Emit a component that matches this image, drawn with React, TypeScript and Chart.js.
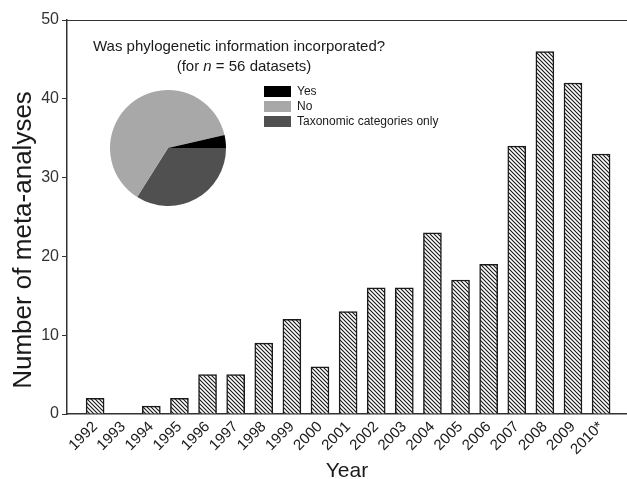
import React, { useEffect, useRef } from "react";
import { Chart, registerables } from "chart.js";

Chart.register(...registerables);

const years = [1992, 1993, 1994, 1995, 1996, 1997, 1998, 1999, 2000, 2001, 2002, 2003, 2004, 2005, 2006, 2007, 2008, 2009, 2010];
const yearLabels = ["1992", "1993", "1994", "1995", "1996", "1997", "1998", "1999", "2000", "2001", "2002", "2003", "2004", "2005", "2006", "2007", "2008", "2009", "2010*"];
const counts = [2, 0, 1, 2, 5, 5, 9, 12, 6, 13, 16, 16, 23, 17, 19, 34, 46, 42, 33];
const yTicks = [0, 10, 20, 30, 40, 50];

const pieLabels = ["Yes", "No", "Taxonomic categories only"];
const pieValues = [2, 35, 19];
const pieColors = ["#000000", "#a8a8a8", "#505050"];

const FONT = "'Liberation Sans', Arial, sans-serif";

function makeHatch(): CanvasPattern | string {
  const p = document.createElement("canvas");
  p.width = 4;
  p.height = 4;
  const c = p.getContext("2d");
  if (!c) return "#888";
  c.fillStyle = "#ffffff";
  c.fillRect(0, 0, 4, 4);
  c.strokeStyle = "#151515";
  c.lineWidth = 1.1;
  c.beginPath();
  c.moveTo(-1, -1);
  c.lineTo(5, 5);
  c.moveTo(3, -1);
  c.lineTo(5, 1);
  c.moveTo(-1, 3);
  c.lineTo(1, 5);
  c.stroke();
  const pat = c.createPattern(p, "repeat");
  return pat || "#888";
}

const annotationPlugin = {
  id: "annotations",
  afterDraw(chart: any) {
    const ctx = chart.ctx as CanvasRenderingContext2D;
    const { left, right, top } = chart.chartArea;
    ctx.save();
    // top border line
    ctx.strokeStyle = "#333";
    ctx.lineWidth = 1;
    ctx.beginPath();
    ctx.moveTo(left, top + 0.5);
    ctx.lineTo(right, top + 0.5);
    ctx.stroke();

    // y axis title
    ctx.save();
    ctx.translate(24, 240);
    ctx.rotate(-Math.PI / 2);
    ctx.font = `26px ${FONT}`;
    ctx.fillStyle = "#1a1a1a";
    ctx.textAlign = "center";
    ctx.textBaseline = "middle";
    ctx.fillText("Number of meta-analyses", 0, 0);
    ctx.restore();

    // inset title
    ctx.fillStyle = "#1a1a1a";
    ctx.textBaseline = "middle";
    ctx.font = `15px ${FONT}`;
    ctx.textAlign = "left";
    ctx.fillText("Was phylogenetic information incorporated?", 93, 47);
    const a = "(for ";
    const b = "n";
    const c = " = 56 datasets)";
    ctx.font = `15px ${FONT}`;
    const wa = ctx.measureText(a).width;
    const wc = ctx.measureText(c).width;
    ctx.font = `italic 15px ${FONT}`;
    const wb = ctx.measureText(b).width;
    let x = 244 - (wa + wb + wc) / 2;
    ctx.font = `15px ${FONT}`;
    ctx.fillText(a, x, 67);
    x += wa;
    ctx.font = `italic 15px ${FONT}`;
    ctx.fillText(b, x, 67);
    x += wb;
    ctx.font = `15px ${FONT}`;
    ctx.fillText(c, x, 67);

    // pie legend
    ctx.font = `12px ${FONT}`;
    pieLabels.forEach((lab, i) => {
      const y = 86 + i * 15;
      ctx.fillStyle = pieColors[i];
      ctx.fillRect(264, y, 27, 11);
      ctx.fillStyle = "#1a1a1a";
      ctx.fillText(lab, 297, y + 5.5);
    });
    ctx.restore();
  },
};

export default function App() {
  const mainRef = useRef<HTMLCanvasElement | null>(null);
  const pieRef = useRef<HTMLCanvasElement | null>(null);

  useEffect(() => {
    if (!mainRef.current || !pieRef.current) return;
    const hatch = makeHatch();
    const xMax = 1991 + (627 - 67) / 28.11;

    const main = new Chart(mainRef.current, {
      type: "bar",
      data: {
        datasets: [
          {
            data: years.map((yr, i) => ({ x: yr, y: counts[i] })),
            backgroundColor: hatch as any,
            borderColor: "#1a1a1a",
            borderWidth: 1.5,
            barThickness: 18,
          },
        ],
      },
      options: {
        responsive: false,
        animation: false,
        layout: { padding: { top: 20, left: 0, right: 0, bottom: 0 } },
        plugins: { legend: { display: false }, tooltip: { enabled: false } },
        scales: {
          x: {
            type: "linear",
            offset: false,
            min: 1991,
            max: xMax,
            afterBuildTicks: (scale: any) => {
              scale.ticks = years.map((v) => ({ value: v }));
            },
            afterFit: (scale: any) => {
              scale.height = 65;
            },
            grid: { display: false, drawTicks: false, offset: false },
            border: { display: true, color: "#333", width: 1.5 },
            ticks: {
              autoSkip: false,
              maxRotation: 45,
              minRotation: 45,
              padding: 4,
              color: "#1a1a1a",
              font: { family: FONT, size: 15 },
              callback: (v: any) => {
                const i = years.indexOf(Number(v));
                return i >= 0 ? yearLabels[i] : "";
              },
            },
            title: {
              display: true,
              text: "Year",
              color: "#1a1a1a",
              font: { family: FONT, size: 21, lineHeight: 1.0 },
              padding: { top: 0, bottom: -3 },
            },
          },
          y: {
            min: 0,
            max: 50,
            afterBuildTicks: (scale: any) => {
              scale.ticks = yTicks.map((v) => ({ value: v }));
            },
            afterFit: (scale: any) => {
              scale.width = 67;
            },
            grid: { display: true, drawOnChartArea: false, drawTicks: true, tickLength: 5, color: "#333" },
            border: { display: true, color: "#333", width: 1.5 },
            ticks: {
              padding: 3,
              color: "#333",
              font: { family: FONT, size: 16 },
            },
          },
        },
      },
      plugins: [annotationPlugin],
    });

    const pieOrder = [2, 1, 0];
    const pie = new Chart(pieRef.current, {
      type: "pie",
      data: {
        labels: pieOrder.map((i) => pieLabels[i]),
        datasets: [
          {
            data: pieOrder.map((i) => pieValues[i]),
            backgroundColor: pieOrder.map((i) => pieColors[i]),
            borderWidth: 0,
          },
        ],
      },
      options: {
        responsive: false,
        animation: false,
        rotation: 90,
        layout: { padding: 0 },
        plugins: { legend: { display: false }, tooltip: { enabled: false } },
      },
    });

    return () => {
      main.destroy();
      pie.destroy();
    };
  }, []);

  return (
    <div style={{ position: "absolute", left: 0, top: 0, width: 627, height: 479, background: "#fff", overflow: "hidden" }}>
      <canvas ref={mainRef} width={627} height={479} style={{ position: "absolute", left: 0, top: 0, width: 627, height: 479 }} />
      <canvas ref={pieRef} width={116} height={116} style={{ position: "absolute", left: 110, top: 90, width: 116, height: 116 }} />
    </div>
  );
}
